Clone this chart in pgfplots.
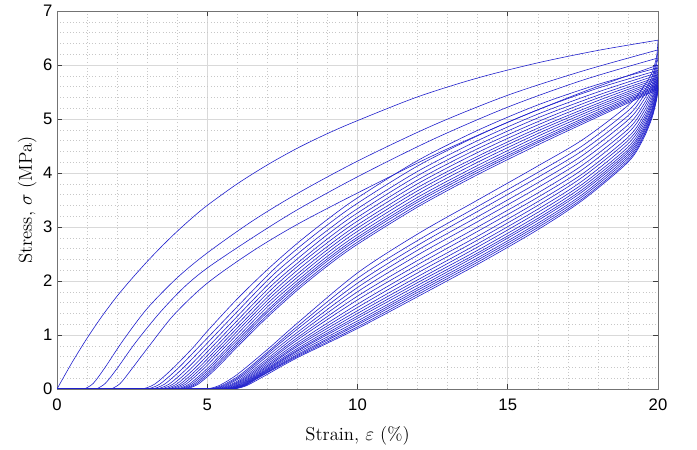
\documentclass[border=0pt]{standalone}
\usepackage{fontspec}
\setsansfont{Liberation Sans}
\usepackage{pgfplots}
\pgfplotsset{compat=1.18}
\definecolor{lineblue}{rgb}{0.12,0.12,0.80}
\pgfplotsset{cyc/.style={smooth, tension=0.5, color=lineblue, line width=0.45pt, mark=none}}
\begin{document}
\begin{tikzpicture}
\begin{axis}[
  name=ax, scale only axis, width=450.75pt, height=283.5pt,
  xmin=0, xmax=20, ymin=0, ymax=7,
  xtick={0,5,10,15,20}, ytick={0,1,2,3,4,5,6,7},
  minor x tick num=4, minor y tick num=4,
  grid=both,
  major grid style={color=black!15, line width=0.4pt},
  minor grid style={color=black!22, line width=0.35pt, dash pattern=on 0.8pt off 1.6pt},
  axis line style={draw=black!55, line width=0.5pt},
  tick style={color=black!75, line width=0.5pt},
  major tick length=4pt, minor tick length=0pt,
  tick align=inside,
  ticklabel style={font=\fontsize{12.5}{14}\selectfont\sffamily},
  xticklabel style={yshift=-4pt},
  /pgf/number format/assume math mode=true,
  xlabel={Strain, $\varepsilon$ (\%)},
  ylabel={Stress, $\sigma$ (MPa)},
  label style={font=\fontsize{14}{16}\selectfont},
  xlabel style={yshift=-5pt},
  ylabel style={yshift=-2pt},
]
% zero-stress segment
\addplot[color=lineblue, line width=0.9pt] coordinates {(0,0) (5.9,0)};
% loading curves
\addplot[cyc] coordinates {(0,0)(0.5,0.49)(1,0.94)(1.5,1.35)(2,1.72)(2.5,2.05)(3,2.36)(3.5,2.65)(4,2.92)(4.5,3.17)(5,3.40)(6,3.80)(7,4.15)(8,4.46)(9,4.73)(10,4.97)(12,5.41)(14,5.76)(16,6.04)(18,6.27)(20,6.46)};
\addplot[cyc] coordinates {(0.9,0)(1.2,0.1)(1.6,0.4)(2.2,0.9)(3,1.49)(4,2.06)(5,2.52)(6.5,3.11)(8,3.62)(10,4.22)(12.5,4.88)(15,5.44)(17.5,5.89)(20,6.28)};
\addplot[cyc] coordinates {(1.3,0)(1.6,0.1)(2.0,0.38)(2.6,0.85)(3.4,1.4)(4.2,1.87)(5,2.24)(6.5,2.8)(8,3.32)(10,3.93)(12.5,4.62)(15,5.22)(17.5,5.72)(20,6.13)};
\addplot[cyc] coordinates {(1.8,0)(2.1,0.1)(2.5,0.38)(3.1,0.82)(3.9,1.38)(5,1.96)(6.5,2.55)(8,3.05)(10,3.63)(12.5,4.32)(15,4.94)(17.5,5.5)(20,6.0)};
\addplot[cyc] coordinates {(2.85,0)(3.25,0.09)(3.85,0.38)(4.55,0.78)(5,1.07)(6,1.67)(7,2.21)(8,2.70)(9,3.14)(10,3.54)(12,4.23)(14,4.79)(16,5.26)(18,5.64)(20,5.95)};
\addplot[cyc] coordinates {(3.02,0)(3.42,0.09)(4.02,0.38)(4.72,0.78)(7,2.10)(8,2.60)(9,3.04)(10,3.44)(12,4.13)(14,4.69)(16,5.17)(18,5.57)(20,5.90)};
\addplot[cyc] coordinates {(3.18,0)(3.58,0.09)(4.18,0.38)(4.88,0.78)(7,2.01)(8,2.50)(9,2.94)(10,3.34)(12,4.03)(14,4.60)(16,5.09)(18,5.50)(20,5.86)};
\addplot[cyc] coordinates {(3.33,0)(3.73,0.09)(4.33,0.38)(5.03,0.78)(7,1.92)(8,2.41)(9,2.86)(10,3.26)(12,3.95)(14,4.52)(16,5.02)(18,5.44)(20,5.82)};
\addplot[cyc] coordinates {(3.46,0)(3.86,0.09)(4.46,0.38)(5.16,0.78)(7,1.84)(8,2.33)(9,2.78)(10,3.18)(12,3.87)(14,4.45)(16,4.95)(18,5.39)(20,5.78)};
\addplot[cyc] coordinates {(3.58,0)(3.98,0.09)(4.58,0.38)(5.28,0.78)(7,1.77)(8,2.27)(9,2.71)(10,3.11)(12,3.80)(14,4.38)(16,4.89)(18,5.34)(20,5.75)};
\addplot[cyc] coordinates {(3.69,0)(4.09,0.09)(4.69,0.38)(5.39,0.78)(7,1.70)(8,2.20)(9,2.64)(10,3.04)(12,3.73)(14,4.31)(16,4.83)(18,5.29)(20,5.72)};
\addplot[cyc] coordinates {(3.79,0)(4.19,0.09)(4.79,0.38)(5.49,0.78)(7,1.64)(8,2.13)(9,2.58)(10,2.98)(12,3.67)(14,4.26)(16,4.78)(18,5.25)(20,5.69)};
\addplot[cyc] coordinates {(3.89,0)(4.29,0.09)(4.89,0.38)(5.59,0.78)(7,1.58)(8,2.07)(9,2.52)(10,2.92)(12,3.61)(14,4.20)(16,4.73)(18,5.21)(20,5.66)};
\addplot[cyc] coordinates {(4.0,0)(4.4,0.09)(5.0,0.38)(5.7,0.78)(7,1.52)(8,2.01)(9,2.46)(10,2.86)(12,3.55)(14,4.14)(16,4.68)(18,5.17)(20,5.63)};
\addplot[cyc] coordinates {(4.08,0)(4.48,0.09)(5.08,0.38)(5.78,0.78)(7,1.46)(8,1.96)(9,2.41)(10,2.81)(12,3.50)(14,4.09)(16,4.63)(18,5.13)(20,5.61)};
\addplot[cyc] coordinates {(4.16,0)(4.56,0.09)(5.16,0.38)(5.86,0.78)(7,1.42)(8,1.92)(9,2.37)(10,2.77)(12,3.46)(14,4.05)(16,4.59)(18,5.10)(20,5.59)};
\addplot[cyc] coordinates {(4.23,0)(4.63,0.09)(5.23,0.38)(5.93,0.78)(7,1.37)(8,1.87)(9,2.32)(10,2.72)(12,3.41)(14,4.01)(16,4.56)(18,5.07)(20,5.57)};
\addplot[cyc] coordinates {(4.3,0)(4.7,0.09)(5.3,0.38)(6.0,0.78)(7,1.33)(8,1.83)(9,2.28)(10,2.68)(12,3.37)(14,3.97)(16,4.52)(18,5.04)(20,5.55)};
% unloading curves
\addplot[cyc] coordinates {(5.0,0)(5.4,0.065)(6.0,0.27)(7,0.73)(8,1.22)(10,2.15)(12,2.87)(14,3.50)(16,4.13)(17.5,4.62)(19,5.25)(19.5,5.58)(19.8,5.86)(19.95,6.15)(20,6.46)};
\addplot[cyc] coordinates {(5.09,0)(5.49,0.065)(6.09,0.26)(7,0.68)(8,1.16)(10,2.05)(12,2.75)(14,3.38)(16,4.01)(17.5,4.51)(19,5.15)(19.5,5.48)(19.8,5.78)(19.95,6.07)(20,6.28)};
\addplot[cyc] coordinates {(5.16,0)(5.56,0.065)(6.16,0.26)(7,0.65)(8,1.11)(10,1.96)(12,2.66)(14,3.29)(16,3.92)(17.5,4.42)(19,5.06)(19.5,5.41)(19.8,5.71)(19.95,6.01)(20,6.13)};
\addplot[cyc] coordinates {(5.23,0)(5.63,0.065)(6.23,0.26)(7,0.61)(8,1.05)(10,1.88)(12,2.57)(14,3.19)(16,3.82)(17.5,4.33)(19,4.98)(19.5,5.33)(19.8,5.64)(19.95,5.94)(20,6.0)};
\addplot[cyc] coordinates {(5.31,0)(5.71,0.065)(6.31,0.26)(8,1.00)(10,1.80)(12,2.48)(14,3.10)(16,3.73)(17.5,4.24)(19,4.89)(19.5,5.25)(19.8,5.57)(19.95,5.88)(20,5.95)};
\addplot[cyc] coordinates {(5.38,0)(5.78,0.065)(6.38,0.26)(8,0.95)(10,1.72)(12,2.38)(14,3.00)(16,3.63)(17.5,4.15)(19,4.81)(19.5,5.18)(19.8,5.51)(19.95,5.81)(20,5.90)};
\addplot[cyc] coordinates {(5.44,0)(5.84,0.065)(6.44,0.26)(8,0.91)(10,1.65)(12,2.30)(14,2.92)(16,3.55)(17.5,4.07)(19,4.74)(19.5,5.11)(19.8,5.45)(19.95,5.76)(20,5.86)};
\addplot[cyc] coordinates {(5.50,0)(5.90,0.065)(6.50,0.26)(8,0.86)(10,1.57)(12,2.22)(14,2.83)(16,3.47)(17.5,3.99)(19,4.66)(19.5,5.04)(19.8,5.39)(19.95,5.70)(20,5.82)};
\addplot[cyc] coordinates {(5.56,0)(5.96,0.065)(6.56,0.26)(8,0.82)(10,1.51)(12,2.15)(14,2.76)(16,3.40)(17.5,3.93)(19,4.60)(19.5,4.98)(19.8,5.34)(19.95,5.65)(20,5.78)};
\addplot[cyc] coordinates {(5.61,0)(6.01,0.065)(6.61,0.26)(8,0.79)(10,1.45)(12,2.08)(14,2.69)(16,3.33)(17.5,3.86)(19,4.54)(19.5,4.93)(19.8,5.29)(19.95,5.61)(20,5.75)};
\addplot[cyc] coordinates {(5.66,0)(6.06,0.065)(6.66,0.26)(8,0.75)(10,1.40)(12,2.02)(14,2.63)(16,3.27)(17.5,3.80)(19,4.48)(19.5,4.88)(19.8,5.25)(19.95,5.57)(20,5.72)};
\addplot[cyc] coordinates {(5.70,0)(6.10,0.065)(6.70,0.26)(8,0.72)(10,1.35)(12,1.97)(14,2.57)(16,3.21)(17.5,3.75)(19,4.43)(19.5,4.83)(19.8,5.20)(19.95,5.53)(20,5.69)};
\addplot[cyc] coordinates {(5.74,0)(6.14,0.065)(6.74,0.26)(8,0.70)(10,1.31)(12,1.92)(14,2.52)(16,3.16)(17.5,3.70)(19,4.39)(19.5,4.79)(19.8,5.17)(19.95,5.49)(20,5.66)};
\addplot[cyc] coordinates {(5.77,0)(6.17,0.065)(6.77,0.26)(8,0.67)(10,1.26)(12,1.87)(14,2.48)(16,3.12)(17.5,3.66)(19,4.35)(19.5,4.75)(19.8,5.14)(19.95,5.46)(20,5.63)};
\addplot[cyc] coordinates {(5.81,0)(6.21,0.065)(6.81,0.26)(8,0.64)(10,1.22)(12,1.83)(14,2.43)(16,3.07)(17.5,3.61)(19,4.31)(19.5,4.72)(19.8,5.10)(19.95,5.43)(20,5.61)};
\addplot[cyc] coordinates {(5.84,0)(6.24,0.065)(6.84,0.26)(8,0.62)(10,1.19)(12,1.79)(14,2.39)(16,3.03)(17.5,3.57)(19,4.27)(19.5,4.68)(19.8,5.07)(19.95,5.40)(20,5.59)};
\addplot[cyc] coordinates {(5.87,0)(6.27,0.065)(6.87,0.26)(8,0.60)(10,1.15)(12,1.75)(14,2.35)(16,2.99)(17.5,3.53)(19,4.23)(19.5,4.65)(19.8,5.05)(19.95,5.37)(20,5.57)};
\addplot[cyc] coordinates {(5.9,0)(6.3,0.06)(6.9,0.24)(8,0.58)(10,1.12)(12,1.71)(14,2.31)(16,2.95)(17.5,3.50)(19,4.20)(19.5,4.62)(19.8,5.02)(19.95,5.35)(20,5.55)};
\end{axis}
\path ([xshift=-42.75pt,yshift=-45pt]ax.south west) rectangle ([xshift=29.25pt,yshift=8.25pt]ax.north east);
\end{tikzpicture}
\end{document}
